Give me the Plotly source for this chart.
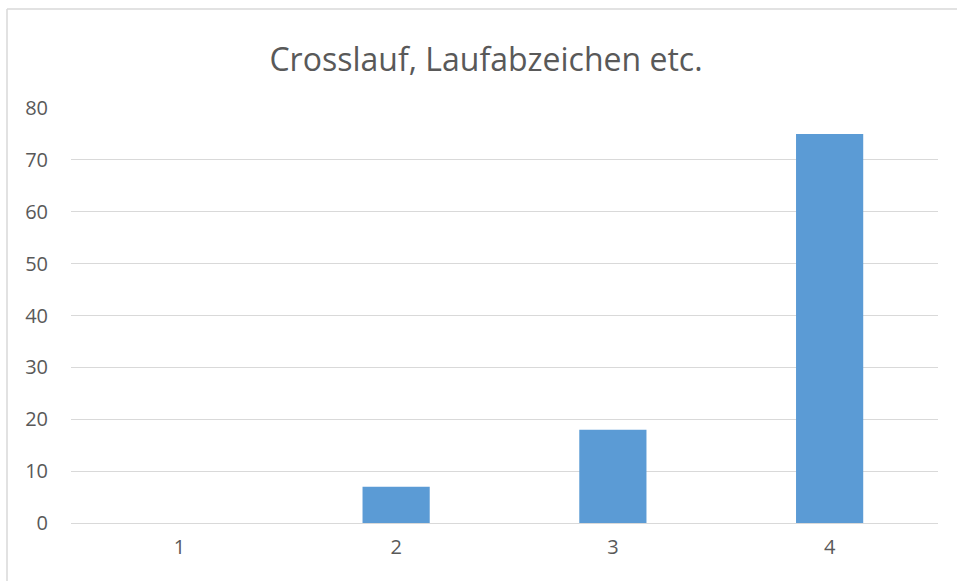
import plotly.graph_objects as go

categories = ["1", "2", "3", "4"]
values = [0, 7, 18, 75]
y_ticks = [0, 10, 20, 30, 40, 50, 60, 70, 80]
title = "Crosslauf, Laufabzeichen etc."

W, H = 957, 581
ML, MR, MT, MB = 71, 19, 108, 58
pw, ph = W - ML - MR, H - MT - MB

def px_to_paper_x(px):
    return (px - ML) / pw

def px_to_paper_y(py):
    return (H - MB - py) / ph

fig = go.Figure(go.Bar(
    x=categories, y=values,
    marker=dict(color="#5b9bd5", line=dict(width=0)),
    width=0.31,
    hoverinfo="x+y",
))

font_family = "Open Sans, Noto Sans, Liberation Sans, sans-serif"

fig.update_layout(
    width=W, height=H,
    margin=dict(l=ML, r=MR, t=MT, b=MB),
    paper_bgcolor="white", plot_bgcolor="white",
    showlegend=False,
    title=dict(text=title, x=486 / W, xanchor="center",
               y=1 - 60 / H, yanchor="middle",
               font=dict(family=font_family, size=32, color="#595959")),
    font=dict(family=font_family, color="#595959", size=20),
    xaxis=dict(type="category", showgrid=False, zeroline=False, showline=False,
               ticks="", tickfont=dict(size=20, color="#595959"), ticklabelstandoff=10),
    yaxis=dict(range=[0, 80], tickvals=y_ticks, showgrid=True, gridcolor="#d9d9d9",
               gridwidth=1.3, zeroline=True, zerolinecolor="#d9d9d9", zerolinewidth=1.3,
               showline=False, ticks="", tickfont=dict(size=20, color="#595959"),
               ticklabelstandoff=22),
    shapes=[
        dict(type="line", xref="paper", yref="paper",
             x0=px_to_paper_x(7), x1=px_to_paper_x(W + 5),
             y0=px_to_paper_y(9), y1=px_to_paper_y(9),
             line=dict(color="#d9d9d9", width=1.5)),
        dict(type="line", xref="paper", yref="paper",
             x0=px_to_paper_x(7), x1=px_to_paper_x(7),
             y0=px_to_paper_y(9), y1=px_to_paper_y(H + 5),
             line=dict(color="#d9d9d9", width=1.5)),
    ],
)

fig.write_html(
    "out.html",
    config={"displayModeBar": False},
    post_script="document.body.style.margin='0';document.body.style.overflow='hidden';",
)
